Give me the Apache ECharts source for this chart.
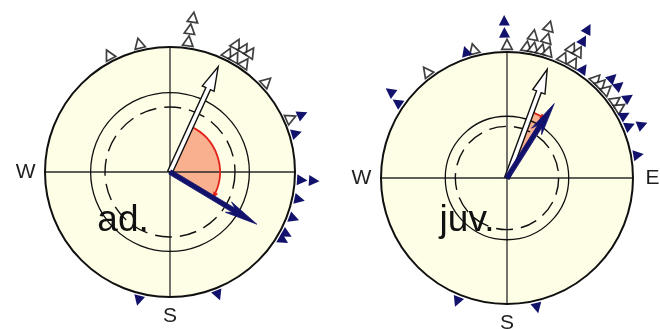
<!DOCTYPE html>
<html>
<head>
<meta charset="utf-8">
<script src="https://cdn.jsdelivr.net/npm/echarts@6/dist/echarts.min.js"></script>
<style>
  html, body { margin: 0; padding: 0; background: #ffffff; }
  #chart { width: 660px; height: 329px; }
</style>
</head>
<body>
<div id="chart"></div>
<script>
// Circular orientation plots for adults (ad.) and juveniles (juv.).
// Azimuths are degrees clockwise from north.
// Individual headings: [azimuth, stack index] (stack index = how many markers sit below it in that bin)
const adOpen = [[332.5, 0], [346.5, 0], [8, 0], [8, 1], [8.5, 2],
                [26, 0], [29.5, 0], [34.5, 0], [27.5, 1], [31, 1], [34, 1],
                [47, 0], [66, 0]];
const adFilled = [[66.5, 1], [73, 0], [93.5, 0], [93.5, 1], [102, 0], [110.5, 0],
                  [118, 0], [121, 0], [158.7, 0], [193.8, 0]];

const juvOpen = [[323, 0], [345.5, 0], [0, 0],
                 [8.5, 0], [11.5, 0], [15, 0], [18, 0], [10.5, 1], [16, 1], [15.5, 2],
                 [25, 0], [30, 0], [26.5, 1], [29.5, 1],
                 [42, 0], [45, 0], [48.5, 0], [54.5, 0], [58, 0]];
const juvFilled = [[304.5, 0], [306.5, 1], [342, 0], [359, 1], [359, 2],
                   [35, 0], [29, 2], [28.5, 3],
                   [46.5, 1], [50.5, 1], [56.5, 1], [62, 0],
                   [67, 0], [68.5, 1], [80, 0], [167, 0], [202, 0]];

// Mean vectors: [azimuth, length r]
const adMeanOpen = [24.6, 0.926];
const adMeanFilled = [121, 0.81];
const juvMeanOpen = [20.3, 0.92];
const juvMeanFilled = [32.4, 0.70];

// Turn between the two mean directions: [from azimuth, to azimuth, radius]
const adTurn = [25, 120, 0.40];
const juvTurn = [20.3, 32.4, 0.56];

// Reference circles: [solid, dashed] radii
const adRings = [0.635, 0.52];
const juvRings = [0.49, 0.41];

// Compass letters: [letter, azimuth]
const adCompass = [['W', 270], ['S', 180]];
const juvCompass = [['W', 270], ['E', 90], ['S', 180]];

const adTitle = 'ad.';
const juvTitle = 'juv.';

// ---- drawing ----
const DISC = '#fefde6';
const NAVY = '#12126c';
const SALMON = '#f8b08e';
const RED = '#e3231a';
const INK = '#101010';
const R_MAX = 1.3;            // radius axis extent (rim = 1)
const STACK_BASE = 1.06;      // first marker just outside the rim
const STACK_STEP = 0.096;
const COMPASS_R = 1.155;

const panels = [
  { center: [170, 172], rim: 125, open: adOpen, filled: adFilled,
    meanOpen: adMeanOpen, meanFilled: adMeanFilled, turn: adTurn, rings: adRings,
    compass: adCompass, title: adTitle, titleAt: [223.8, 0.543] },
  { center: [507, 178], rim: 126, open: juvOpen, filled: juvFilled,
    meanOpen: juvMeanOpen, meanFilled: juvMeanFilled, turn: juvTurn, rings: juvRings,
    compass: juvCompass, title: juvTitle, titleAt: [222.9, 0.466] }
];

const dist = (a, b) => Math.hypot(b[0] - a[0], b[1] - a[1]);

function arrowPoints(c, t, shaftHalf, headLen, headHalf, notch) {
  const L = dist(c, t);
  const ux = (t[0] - c[0]) / L, uy = (t[1] - c[1]) / L;
  const px = -uy, py = ux;
  const b = [t[0] - ux * headLen, t[1] - uy * headLen];
  const n = [b[0] - ux * notch, b[1] - uy * notch];
  return [
    [c[0] + px * shaftHalf, c[1] + py * shaftHalf],
    [b[0] + px * shaftHalf, b[1] + py * shaftHalf],
    [n[0] + px * headHalf, n[1] + py * headHalf],
    t,
    [n[0] - px * headHalf, n[1] - py * headHalf],
    [b[0] - px * shaftHalf, b[1] - py * shaftHalf],
    [c[0] - px * shaftHalf, c[1] - py * shaftHalf]
  ];
}

function makeRender(P) {
  return function (params, api) {
    const at = (r, az) => api.coord([r, az]);
    const c = at(0, 0);
    const cx = c[0], cy = c[1];
    const R = dist(c, at(1, 0));
    const kids = [];

    kids.push({ type: 'circle', shape: { cx, cy, r: R }, style: { fill: DISC } });

    // turn sector between mean directions
    const [a0, a1, tr] = P.turn;
    const rr = dist(c, at(tr, a0));
    const th0 = (a0 - 90) * Math.PI / 180, th1 = (a1 - 90) * Math.PI / 180;
    kids.push({ type: 'sector',
      shape: { cx, cy, r0: 0, r: rr, startAngle: th0, endAngle: th1, clockwise: true },
      style: { fill: SALMON } });

    // N-S and E-W lines
    [[0, 180], [90, 270]].forEach(([p, q]) => {
      const A = at(1, p), B = at(1, q);
      kids.push({ type: 'line', shape: { x1: A[0], y1: A[1], x2: B[0], y2: B[1] },
        style: { stroke: '#2a2a2a', lineWidth: 1.3 } });
    });

    // reference circles
    kids.push({ type: 'circle', shape: { cx, cy, r: dist(c, at(P.rings[0], 0)) },
      style: { fill: null, stroke: INK, lineWidth: 1.3 } });
    kids.push({ type: 'circle', shape: { cx, cy, r: dist(c, at(P.rings[1], 0)) },
      style: { fill: null, stroke: INK, lineWidth: 1.4, lineDash: [17, 8] } });

    // red turn arc with small head
    kids.push({ type: 'arc',
      shape: { cx, cy, r: rr, startAngle: th0, endAngle: th1, clockwise: true },
      style: { fill: null, stroke: RED, lineWidth: 1.8 } });
    const E = at(tr, a1);
    const tx = -Math.sin(th1), ty = Math.cos(th1);
    const nx = Math.cos(th1), ny = Math.sin(th1);
    kids.push({ type: 'polygon', shape: { points: [
        [E[0] + tx * 2, E[1] + ty * 2],
        [E[0] - tx * 5 + nx * 2.6, E[1] - ty * 5 + ny * 2.6],
        [E[0] - tx * 5 - nx * 2.6, E[1] - ty * 5 - ny * 2.6]] },
      style: { fill: RED } });

    // rim
    kids.push({ type: 'circle', shape: { cx, cy, r: R },
      style: { fill: null, stroke: INK, lineWidth: 2 } });

    // mean vectors
    kids.push({ type: 'polygon',
      shape: { points: arrowPoints(c, at(P.meanOpen[1], P.meanOpen[0]), 2.5, 24, 6.5, 0) },
      style: { fill: '#ffffff', stroke: INK, lineWidth: 1.4 } });
    kids.push({ type: 'polygon',
      shape: { points: arrowPoints(c, at(P.meanFilled[1], P.meanFilled[0]), 2.4, 27, 6, 6) },
      style: { fill: NAVY, stroke: NAVY, lineWidth: 0.8 } });

    // group title
    const tp = at(P.titleAt[1], P.titleAt[0]);
    kids.push({ type: 'text', x: tp[0], y: tp[1],
      style: { legacy: false, text: P.title, font: '37px "Liberation Sans", Arial, sans-serif',
        fill: INK, align: 'center', verticalAlign: 'middle' } });

    // compass letters
    P.compass.forEach(([t, az]) => {
      const p = at(COMPASS_R, az);
      kids.push({ type: 'text', x: p[0], y: p[1],
        style: { legacy: false, text: t, font: '21px "Liberation Sans", Arial, sans-serif',
          fill: '#1e1e1e', align: 'center', verticalAlign: 'middle' } });
    });

    return { type: 'group', children: kids };
  };
}

function markers(list) {
  return list.map(([az, k]) => ({ value: [STACK_BASE + STACK_STEP * k, az], symbolRotate: -az }));
}

const polar = [], angleAxis = [], radiusAxis = [], series = [];
panels.forEach((P, i) => {
  polar.push({ center: P.center, radius: P.rim * R_MAX });
  angleAxis.push({ polarIndex: i, type: 'value', min: 0, max: 360, startAngle: 90, clockwise: true,
    axisLine: { show: false }, axisTick: { show: false }, axisLabel: { show: false },
    splitLine: { show: false } });
  radiusAxis.push({ polarIndex: i, type: 'value', min: 0, max: R_MAX,
    axisLine: { show: false }, axisTick: { show: false }, axisLabel: { show: false },
    splitLine: { show: false } });
  series.push({ type: 'custom', coordinateSystem: 'polar', polarIndex: i, z: 2, silent: true,
    data: [[0, 0]], renderItem: makeRender(P) });
  series.push({ type: 'scatter', coordinateSystem: 'polar', polarIndex: i, z: 3, silent: true,
    clip: false, symbol: 'triangle', symbolSize: [10.5, 10], data: markers(P.open),
    itemStyle: { color: '#ffffff', borderColor: INK, borderWidth: 1.7 } });
  series.push({ type: 'scatter', coordinateSystem: 'polar', polarIndex: i, z: 3, silent: true,
    clip: false, symbol: 'triangle', symbolSize: [11, 10.5], data: markers(P.filled),
    itemStyle: { color: NAVY, opacity: 1 } });
});

const chart = echarts.init(document.getElementById('chart'), null, { renderer: 'canvas' });
chart.setOption({
  animation: false,
  backgroundColor: '#ffffff',
  polar, angleAxis, radiusAxis, series
});
</script>
</body>
</html>
